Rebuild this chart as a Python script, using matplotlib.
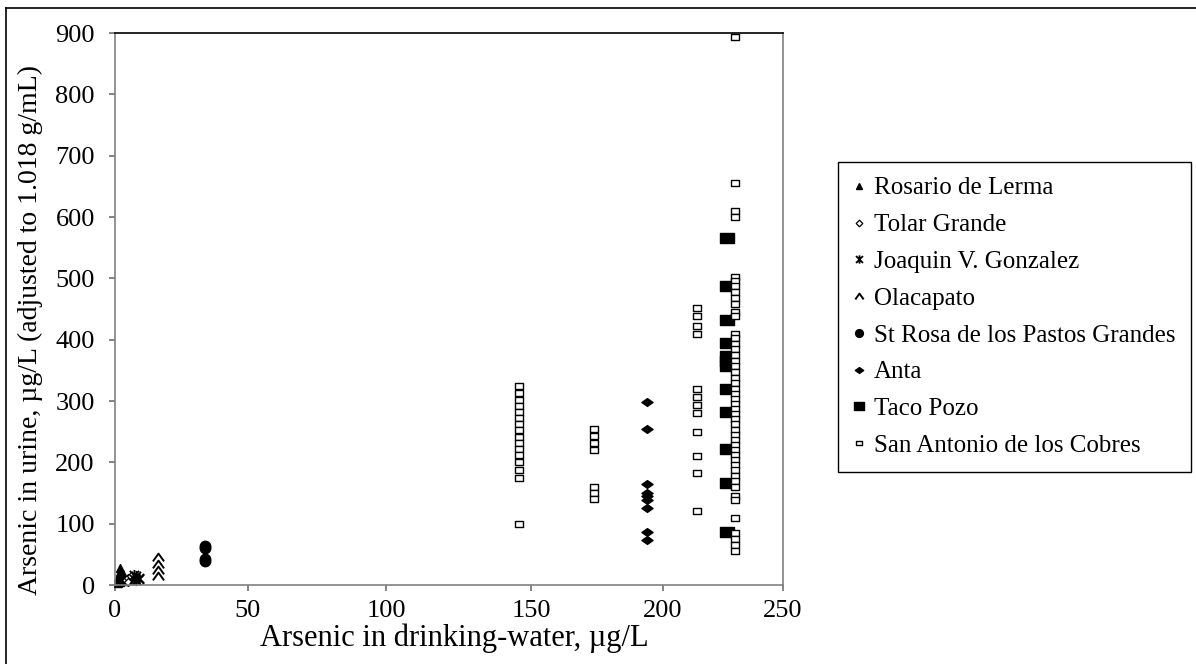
import matplotlib
matplotlib.use('Agg')
import matplotlib.pyplot as plt
import numpy as np
from matplotlib.path import Path
from matplotlib.lines import Line2D

plt.rcParams['font.family'] = ['Liberation Serif', 'DejaVu Serif']

# --- data ---
rosario_x = [1, 1, 2, 2, 2, 2, 3, 3, 1, 2]
rosario_y = [3, 8, 5, 10, 15, 22, 7, 18, 13, 27]

tolar_x = [4, 5, 5, 6]
tolar_y = [8, 12, 5, 15]

joaquin_x = [7, 8, 8, 9, 7, 9]
joaquin_y = [10, 8, 14, 12, 16, 10]

olacapato_x = [16, 16, 16, 16]
olacapato_y = [15, 25, 35, 45]

strosa_x = [34, 34, 34, 34]
strosa_y = [39, 43, 60, 64]

anta_x = [194] * 9
anta_y = [298, 255, 165, 150, 145, 138, 125, 87, 74]

taco_x = [226.5] * 12
taco_y = [565, 488, 432, 395, 373, 365, 357, 320, 282, 222, 167, 87]

sac_x_145 = [146] * 16
sac_y_145 = [325, 313, 302, 292, 282, 272, 262, 252, 242, 232, 222, 212, 200, 187, 175, 100]
sac_x_174 = [174] * 7
sac_y_174 = [255, 243, 232, 220, 160, 150, 140]
sac_x_213 = [214] * 12
sac_y_213 = [452, 438, 423, 410, 320, 307, 293, 280, 250, 210, 182, 120]
sac_y_230 = [893, 655, 610, 600, 502, 495, 487, 478, 468, 458, 445, 438, 410, 402,
             393, 385, 375, 365, 357, 348, 338, 330, 320, 312, 303, 295, 287, 278,
             270, 262, 253, 245, 237, 228, 220, 212, 203, 195, 187, 178, 170, 160,
             145, 138, 110, 85, 75, 65, 55]
sac_x_230 = [230] * len(sac_y_230)

sac_x = sac_x_145 + sac_x_174 + sac_x_213 + sac_x_230
sac_y = sac_y_145 + sac_y_174 + sac_y_213 + sac_y_230

x_ticks = [0, 50, 100, 150, 200, 250]
y_ticks = list(range(0, 901, 100))

# the scanned original is slightly uneven along x; reproduce it with a
# piecewise-linear scale (tick pixel columns measured on the original)
x_tick_px = [115, 248, 386, 531, 663, 783]
x_warp = [(p - x_tick_px[0]) / (x_tick_px[-1] - x_tick_px[0]) * 250 for p in x_tick_px]
_src = [-1e4] + x_ticks + [1e4]
_dst = [-1e4] + x_warp + [1e4]


def x_fwd(v):
    return np.interp(v, _src, _dst)


def x_inv(v):
    return np.interp(v, _dst, _src)


# --- custom Excel-like markers ---
M, L, C = Path.MOVETO, Path.LINETO, Path.CLOSEPOLY
asterisk = Path([(-1, -1), (1, 1), (-1, 1), (1, -1), (0, -1.2), (0, 1.2)], [M, L, M, L, M, L])
chevron = Path([(-1, -0.7), (0, 0.7), (1, -0.7)], [M, L, L])


def box(w, h):
    return Path([(-w, -h), (w, -h), (w, h), (-w, h), (-w, -h)], [M, L, L, L, C])


wide_diamond = Path([(-1, 0), (0, 0.7), (1, 0), (0, -0.7), (-1, 0)], [M, L, L, L, C])
wide_rect = box(1, 0.7)
open_rect = box(1, 0.72)

fig = plt.figure(figsize=(11.96, 6.64), dpi=100)
ax = fig.add_axes([115 / 1196, 1 - 585 / 664, (783 - 115) / 1196, (585 - 33) / 664])
ax.set_xscale('function', functions=(x_fwd, x_inv))

common = dict(linestyle='none', clip_on=False)
ax.plot(rosario_x, rosario_y, marker='^', ms=6, mfc='black', mec='black', label='Rosario de Lerma', **common)
ax.plot(tolar_x, tolar_y, marker='D', ms=4.5, mfc='white', mec='black', mew=0.9, label='Tolar Grande', **common)
ax.plot(joaquin_x, joaquin_y, marker=asterisk, ms=8, mfc='none', mec='black', mew=1.3, label='Joaquin V. Gonzalez', **common)
ax.plot(olacapato_x, olacapato_y, marker=chevron, ms=8, mfc='none', mec='black', mew=1.4, label='Olacapato', **common)
ax.plot(strosa_x, strosa_y, marker='o', ms=7.5, mfc='black', mec='black', label='St Rosa de los Pastos Grandes', **common)
ax.plot(anta_x, anta_y, marker=wide_diamond, ms=8, mfc='black', mec='black', label='Anta', **common)
ax.plot(taco_x, taco_y, marker=wide_rect, ms=10, mfc='black', mec='black', label='Taco Pozo', **common)
ax.plot(sac_x, sac_y, marker=open_rect, ms=6, mfc='white', mec='black', mew=1.0, label='San Antonio de los Cobres', **common)

ax.set_xlim(0, 250)
ax.set_ylim(0, 900)
ax.set_xticks(x_ticks)
ax.set_xticklabels([str(t) for t in x_ticks])
ax.set_yticks(y_ticks)
ax.minorticks_off()

for side in ['left', 'bottom', 'right']:
    ax.spines[side].set_color('#808080')
    ax.spines[side].set_linewidth(1.2)
ax.spines['top'].set_color('black')
ax.spines['top'].set_linewidth(1.2)

ax.tick_params(axis='both', direction='out', length=4.5, width=1.2, color='#707070',
               labelsize=19, labelcolor='black')
ax.tick_params(axis='y', pad=10)
ax.tick_params(axis='x', pad=6)
ax.tick_params(axis='both', which='both', top=False, right=False)

fig.text(30 / 1196, 1 - 330 / 664, 'Arsenic in urine, µg/L (adjusted to 1.018 g/mL)',
         rotation=90, ha='center', va='center', fontsize=20)
fig.text(454 / 1196, 1 - 638 / 664, 'Arsenic in drinking-water, µg/L',
         ha='center', va='center', fontsize=22)

leg = ax.legend(loc='upper left', bbox_to_anchor=(838 / 1196, 1 - 162 / 664),
                bbox_transform=fig.transFigure, fontsize=18, frameon=True,
                fancybox=False, framealpha=1, edgecolor='black', borderpad=0.6,
                labelspacing=0.57, handlelength=0.45, handletextpad=0.4,
                borderaxespad=0, markerscale=0.75)
leg.get_frame().set_linewidth(1.0)

# outer chart border (left and top edges are visible in the original)
fig.add_artist(Line2D([6 / 1196, 6 / 1196], [0, 1 - 8 / 664], color='black', lw=1.2, transform=fig.transFigure))
fig.add_artist(Line2D([6 / 1196, 1], [1 - 8 / 664, 1 - 8 / 664], color='black', lw=1.2, transform=fig.transFigure))

fig.savefig('out.png', dpi=100)
